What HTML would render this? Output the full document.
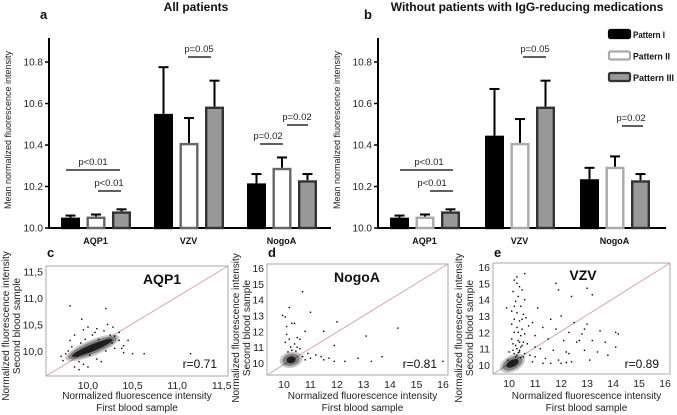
<!DOCTYPE html>
<html><head><meta charset="utf-8">
<style>
html,body{margin:0;padding:0;background:#fff;}
svg{display:block;font-family:"Liberation Sans",Arial,sans-serif;}
</style></head>
<body>
<svg id="fig" width="677" height="415" viewBox="0 0 677 415" xmlns="http://www.w3.org/2000/svg">
<g id="topGroup"></g>
<g id="bottomGroup"></g>
</svg>
<script>
// ---------- bar chart data ----------
const categories = ['AQP1','VZV','NogoA'];
const patterns = ['Pattern I','Pattern II','Pattern III'];
const yTicks = [10.0,10.2,10.4,10.6,10.8];
const yTickLabels = ['10.0','10.2','10.4','10.6','10.8'];
// panel a (all patients)
const aPatternI = [10.05,10.55,10.215];
const aPatternII = [10.055,10.41,10.29];
const aPatternIII = [10.08,10.585,10.23];
const aErrI = [10.06,10.775,10.26];
const aErrII = [10.065,10.53,10.34];
const aErrIII = [10.09,10.71,10.26];
// panel b (without IgG-reducing meds)
const bPatternI = [10.05,10.445,10.235];
const bPatternII = [10.055,10.41,10.295];
const bPatternIII = [10.08,10.585,10.23];
const bErrI = [10.06,10.67,10.29];
const bErrII = [10.065,10.525,10.345];
const bErrIII = [10.09,10.71,10.26];

// ---------- scatter data ----------
const cPoints = [[9.8,10.85],[10.2,10.8],[9.93,10.6],[10.35,10.35],[10.45,10.2],[10.63,9.95],[10.5,9.95],[11.15,9.95],[10.4,9.97],[9.7,9.9],[9.75,9.95],[9.85,9.7],[9.9,9.65],[10.28,10.45],[10.22,10.5],[10.0,10.45],[9.95,10.4],[10.1,10.42],[10.3,10.05],[9.9,9.8],[10.4,10.1],[10.15,9.8],[9.8,10.2],[9.85,10.3],[10.05,10.3],[10.25,10.3],[9.95,9.75],[10.1,9.85],[10.35,10.2],[9.78,10.0],[10.0,9.7],[10.18,10.38],[9.72,9.82],[9.88,9.9],[9.92,10.15],[10.02,9.92],[10.12,10.22],[10.2,10.0],[10.3,10.28],[10.38,10.05],[9.82,10.08],[10.08,10.35],[10.27,10.15],[9.97,10.22]];
const dPoints = [[10.7,14.5],[10.2,13.5],[9.95,13],[11,13.2],[10.3,12.5],[10.4,12.5],[12,12.6],[14.3,12.2],[13.1,11.7],[11.5,12],[10.8,12],[10.1,11.8],[10.2,11.5],[10.05,11.3],[10.4,11.2],[11.9,11.1],[10.5,11],[10.3,10.8],[10.6,10.9],[11.2,10.5],[11,10.3],[11.4,10.4],[11.5,10.2],[11.9,10.1],[12.3,10.1],[12.8,10.3],[13.3,10.1],[13.7,10.4],[16,10.1],[10.9,10.6],[11.7,10.3],[10.7,10.4],[10.1,12.3],[10.6,11.5],[10.25,11],[10.5,11.6],[10.15,10.7],[10.45,10.75],[10.8,10.2],[10.05,12.9]];
const ePoints = [[10.2,15.2],[10.3,15],[10.6,15.6],[10.4,14.8],[10.15,14.5],[10.35,14.2],[10.5,14.6],[10.25,13.9],[10.45,13.6],[10.1,13.3],[9.9,13.5],[10.3,13.2],[10.55,13.1],[10.2,12.8],[10.4,12.7],[10.65,12.9],[10.1,12.5],[10.3,12.3],[10.5,12.2],[10.75,12.4],[10.2,12],[10.45,11.8],[10.6,11.9],[10.1,11.6],[10.35,11.5],[10.55,11.4],[10.25,11.2],[10.45,11.1],[10.7,11.3],[10.15,10.9],[10.4,10.8],[10.6,10.7],[10.3,10.6],[11.8,15.0],[11.9,14.6],[13,14.7],[13.2,14.3],[12.4,14.2],[11.1,13.5],[11.6,12.8],[12,13],[12.5,12.6],[13,12.5],[11.3,12.3],[11.8,12.2],[12.3,12],[12.8,11.9],[13.5,12.1],[14.1,12],[14.2,11.9],[11,11.8],[11.5,11.6],[12.1,11.5],[12.6,11.4],[13.2,11.5],[13.7,11.4],[14.1,11.1],[11.2,11],[11.7,10.9],[12.2,10.8],[12.9,10.9],[13.4,10.8],[13.8,10.6],[11,10.5],[11.4,10.4],[11.9,10.3],[12.4,10.2],[11.3,10.1],[11.6,10.1],[12.0,10.1],[12.2,10.15],[10.9,10.2],[10.8,10.6],[11.0,11.1],[10.9,12.6],[12.3,10.7],[13.1,10.3],[9.95,10.3],[10.0,10.8],[10.3,15.4],[12.7,11.5],[12.9,12.2],[10.35,12.0],[10.5,12.8],[10.2,13.6],[10.6,14.0],[10.4,10.9],[10.55,10.5],[10.3,11.0],[10.35,10.75],[10.25,10.5],[10.45,10.45],[10.2,10.7],[10.5,11.2],[10.15,11.3],[10.4,11.4]];
const cCore = [10.05,10.06,0.26,0.18];
const dCore = [10.27,10.2,0.28,0.1];
const eCore = [10.13,10.1,0.33,0.28];
const scatterTicksC = [10.0,10.5,11.0,11.5];
const scatterTickLabelsC = ['10,0','10,5','11,0','11,5'];
const scatterTicksDE = [10,11,12,13,14,15,16];
const scatterTickLabelsDE = ['10','11','12','13','14','15','16'];
const rValues = ['r=0.71','r=0.81','r=0.89'];

const NS='http://www.w3.org/2000/svg';
function mk(tag, attrs, parent, txt){
  const e=document.createElementNS(NS,tag);
  for(const k in attrs) e.setAttribute(k,attrs[k]);
  if(txt!==undefined) e.textContent=txt;
  parent.appendChild(e); return e;
}
const topG=document.getElementById('topGroup');
const botG=document.getElementById('bottomGroup');

function barPanel(opt){
  const g=mk('g',{},topG);
  
  
  const y=v=>228-(v-10)*207.5;
  const x0=opt.axisX;
  let ax=mk('line',{x1:x0,y1:228,x2:opt.axisEnd,y2:228,stroke:'#000','stroke-width':2},g);
  
  
  ax=mk('line',{x1:x0,y1:38,x2:x0,y2:229,stroke:'#000','stroke-width':2},g);
  
  
  yTicks.forEach((t,i)=>{
    mk('line',{x1:x0-4,y1:y(t),x2:x0,y2:y(t),stroke:'#000','stroke-width':1.5},g);
    const tl=mk('text',{x:x0-6,y:y(t)+3.5,'text-anchor':'end','font-size':10,fill:'#222'},g,yTickLabels[i]);
    
    
  });
  const yt=mk('text',{x:0,y:0,transform:`translate(${x0-38},130) rotate(-90)`,'text-anchor':'middle','font-size':9,fill:'#222'},g,'Mean normalized fluorescence intensity');
  
  
  const series=[opt.s1,opt.s2,opt.s3], errs=[opt.e1,opt.e2,opt.e3];
  const fills=['#000','#fff','#999'], strokes=['#000',opt.whiteStroke,'#333'];
  categories.forEach((c,ci)=>{
    const gx=x0+12+ci*opt.spacing;
    series.forEach((s,si)=>{
      const bx=gx+si*25.5, tp=y(s[ci]);
      const e=errs[si][ci];
      const el=mk('line',{x1:bx+9.5,y1:tp,x2:bx+9.5,y2:y(e),stroke:'#000','stroke-width':2},g);
      
      
      mk('line',{x1:bx+4.5,y1:y(e),x2:bx+14.5,y2:y(e),stroke:'#000','stroke-width':2},g);
      const r=mk('rect',{x:bx+1.2,y:tp+1.2,width:16.6,height:Math.max(228-tp-1.2,0.5),fill:fills[si],stroke:strokes[si],'stroke-width':2.4},g);
      
      
    });
    const cl=mk('text',{x:gx+34.5,y:244,'text-anchor':'middle','font-size':9,'font-weight':'bold',fill:'#111'},g,c);
    
    
  });
  opt.pvals.forEach(p=>{
    mk('line',{x1:p[0],y1:p[2],x2:p[1],y2:p[2],stroke:'#000','stroke-width':1.2},g);
    const t=mk('text',{x:p[3],y:p[2]-5,'text-anchor':'middle','font-size':9.5,fill:'#222'},g,p[4]);
    
    
  });
  const pl=mk('text',{x:opt.letterX,y:19,'font-size':13,'font-weight':'bold',fill:'#111'},g,opt.letter);
  
  
  const ti=mk('text',{x:opt.titleX,y:11,'text-anchor':'middle','font-size':12,'font-weight':'bold',fill:'#111'},g,opt.title);
  
  
}
barPanel({name:'bar-chart-all-patients',axisX:49,axisEnd:331,spacing:93,s1:aPatternI,s2:aPatternII,s3:aPatternIII,e1:aErrI,e2:aErrII,e3:aErrIII,whiteStroke:'#666',
  letter:'a',letterX:40,title:'All patients',titleX:196,
  pvals:[[66,120,170,93,'p<0.01'],[98,121,191,109,'p<0.01'],[188,211,57,199,'p=0.05'],[260,283,144,268,'p=0.02'],[287,308,125,297,'p=0.02']]});
barPanel({name:'bar-chart-without-igg-medications',axisX:378,axisEnd:666,spacing:95,s1:bPatternI,s2:bPatternII,s3:bPatternIII,e1:bErrI,e2:bErrII,e3:bErrIII,whiteStroke:'#aaa',
  letter:'b',letterX:364,title:'Without patients with IgG-reducing medications',titleX:527,
  pvals:[[400,453,170,429,'p<0.01'],[430,453,191,432,'p<0.01'],[523,546,57,535,'p=0.05'],[622,643,126,631,'p=0.02']]});

const lg=mk('g',{},topG);


const lf=['#000','#fff','#999'], ls=['#000','#aaa','#333'];
const lw=[32,37,41];
patterns.forEach((p,i)=>{
  const yy=30+i*21.5;
  const it=mk('g',{},lg);
  
  
  mk('rect',{x:609,y:yy,width:21,height:8,rx:1.5,fill:lf[i],stroke:ls[i],'stroke-width':2.2},it);
  mk('text',{x:633,y:yy+8,'font-size':9,'font-weight':'bold',fill:'#111',textLength:lw[i],lengthAdjust:'spacingAndGlyphs'},it,p);
});

function scatter(o){
  const g=mk('g',{},botG);
  
  
  const X=v=>o.x0+(v-o.xmin)/(o.xmax-o.xmin)*(o.x1-o.x0);
  const Y=v=>o.y1-(v-o.ymin)/(o.ymax-o.ymin)*(o.y1-o.y0);
  const box=mk('rect',{x:o.x0,y:o.y0,width:o.x1-o.x0,height:o.y1-o.y0,fill:'none',stroke:'#aaa','stroke-width':1},g);
  
  
  const dl=mk('line',{x1:o.x0,y1:o.y1,x2:o.x1,y2:o.y0,stroke:'#d7a3a3','stroke-width':1},g);
  
  
  const c=o.core;
  const ax1=X(c[0]-c[2]), ay1=Y(c[1]-c[3]), ax2=X(c[0]+c[2]), ay2=Y(c[1]+c[3]);
  const cx=(ax1+ax2)/2, cy=(ay1+ay2)/2, len=Math.hypot(ax2-ax1,ay2-ay1)/2, ang=Math.atan2(ay2-ay1,ax2-ax1)*180/Math.PI;
  const halo=mk('ellipse',{cx:cx,cy:cy,rx:len+4,ry:o.thick+3,transform:`rotate(${ang} ${cx} ${cy})`,fill:'#000','fill-opacity':0.22},g);
  
  
  const mid=mk('ellipse',{cx:cx,cy:cy,rx:len+1,ry:o.thick+1,transform:`rotate(${ang} ${cx} ${cy})`,fill:'#000','fill-opacity':0.35},g);
  
  
  const core=mk('ellipse',{cx:cx,cy:cy,rx:len-3,ry:o.thick-1.5,transform:`rotate(${ang} ${cx} ${cy})`,fill:'#000','fill-opacity':0.75},g);
  
  
  o.points.forEach(p=>{
    const pt=mk('rect',{x:X(p[0])-0.7,y:Y(p[1])-0.7,width:1.4,height:1.4,fill:'#000'},g);
    
    
  });
  o.ticks.forEach((t,i)=>{
    if(t>=o.xmin&&t<=o.xmax){
      const tx=mk('text',{x:X(t),y:o.y1+13,'text-anchor':'middle','font-size':10.5,fill:'#222'},g,o.labels[i]);
      
      
    }
  });
  o.yticks.forEach((t,i)=>{
    const ty=mk('text',{x:o.x0-3,y:Y(t)+4,'text-anchor':'end','font-size':10.5,fill:'#222'},g,o.ylabels[i]);
    
    
  });
  const xm=(o.x0+o.x1)/2+o.xtOff;
  const xt1=mk('text',{x:xm,y:399,'text-anchor':'middle','font-size':10,fill:'#222'},g,'Normalized fluorescence intensity');
  
  
  const xt2=mk('text',{x:xm,y:411,'text-anchor':'middle','font-size':10,fill:'#222'},g,'First blood sample');
  
  
  const yt1=mk('text',{x:0,y:0,transform:`translate(${o.ytx},${o.yty}) rotate(-90)`,'text-anchor':'middle','font-size':10,fill:'#222'},g,'Normalized fluorescence intensity');
  
  
  const yt2=mk('text',{x:0,y:0,transform:`translate(${o.ytx+11},${o.yty}) rotate(-90)`,'text-anchor':'middle','font-size':10,fill:'#222'},g,'Second blood sample');
  
  
  const ti=mk('text',{x:o.titleX,y:o.titleY,'text-anchor':'middle','font-size':14,'font-weight':'bold',fill:'#111'},g,o.title);
  
  
  const rv=mk('text',{x:o.x1-11,y:368,'text-anchor':'end','font-size':12,fill:'#111'},g,o.r);
  
  
  const pl=mk('text',{x:o.x0+1,y:257,'font-size':13,'font-weight':'bold',fill:'#111'},g,o.letter);
  
  
}
scatter({name:'scatter-aqp1',x0:46,x1:228,y0:266,y1:376,xmin:9.53,xmax:11.57,ymin:9.53,ymax:11.6,points:cPoints,core:cCore,thick:5,
  ticks:scatterTicksC,labels:scatterTickLabelsC,yticks:scatterTicksC,ylabels:scatterTickLabelsC,title:'AQP1',titleX:162,titleY:284,r:rValues[0],letter:'c',ytx:9,yty:326,xtOff:0});
scatter({name:'scatter-nogoa',x0:267,x1:448,y0:264,y1:375,xmin:9.36,xmax:16.19,ymin:9.24,ymax:16.25,points:dPoints,core:dCore,thick:5,
  ticks:scatterTicksDE,labels:scatterTickLabelsDE,yticks:scatterTicksDE,ylabels:scatterTickLabelsDE,title:'NogoA',titleX:357,titleY:282,r:rValues[1],letter:'d',ytx:239,yty:328,xtOff:5});
scatter({name:'scatter-vzv',x0:493,x1:670,y0:263,y1:374,xmin:9.38,xmax:16.19,ymin:9.45,ymax:16.25,points:ePoints,core:eCore,thick:5,
  ticks:scatterTicksDE,labels:scatterTickLabelsDE,yticks:scatterTicksDE,ylabels:scatterTickLabelsDE,title:'VZV',titleX:583,titleY:280,r:rValues[2],letter:'e',ytx:462,yty:328,xtOff:5});
</script>
</body></html>
